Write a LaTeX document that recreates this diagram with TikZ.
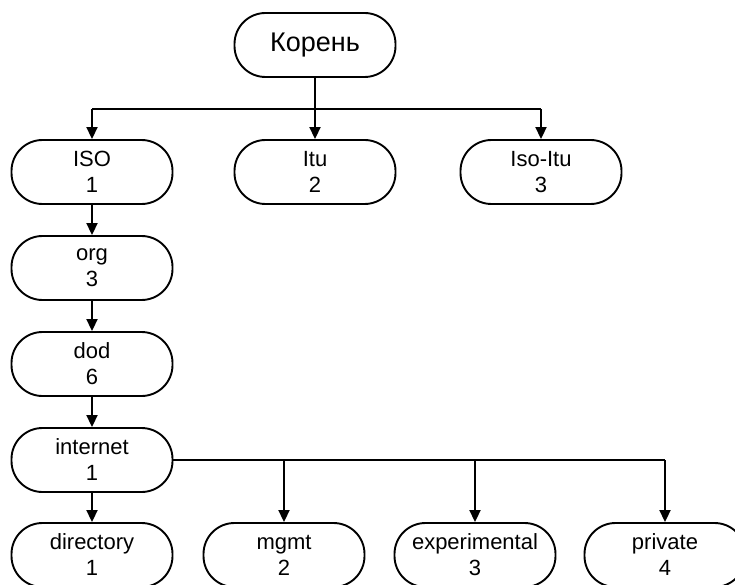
\documentclass[tikz,border=0pt]{standalone}
\usepackage{fontspec}
\setmainfont{Liberation Sans}
\usetikzlibrary{arrows.meta}
\begin{document}
\begin{tikzpicture}[x=1pt,y=-1pt,
  box/.style={draw, line width=1.9pt, rounded corners=31pt, minimum width=161pt, minimum height=64pt,
    align=center, font=\fontsize{22}{26}\selectfont, inner sep=0pt,
    execute at begin node={\rule{0pt}{16pt}}},
  conn/.style={line width=1.9pt},
  arr/.style={conn, -{Triangle[length=12pt,width=11pt]}}]
\useasboundingbox (0,0) rectangle (735,585);
\node[box, font=\fontsize{27}{30}\selectfont] (root) at (315,45) {Корень};
\node[box] (iso) at (92,172) {ISO\\1};
\node[box] (itu) at (315,172) {Itu\\2};
\node[box] (isoitu) at (541,172) {Iso-Itu\\3};
\node[box] (org) at (92,268) {org\\3};
\node[box] (dod) at (92,364) {dod\\6};
\node[box] (internet) at (92,460) {internet\\1};
\node[box] (directory) at (92,555) {directory\\1};
\node[box] (mgmt) at (284,555) {mgmt\\2};
\node[box] (experimental) at (475,555) {experimental\\3};
\node[box] (private) at (665,555) {private\\4};
\coordinate (j) at (315,109);
\draw[conn] (root.south) -- (j);
\draw[conn] (j -| iso) -- (j -| isoitu);
\draw[arr] (j -| iso) -- (iso.north);
\draw[arr] (j) -- (itu.north);
\draw[arr] (j -| isoitu) -- (isoitu.north);
\draw[arr] (iso.south) -- (org.north);
\draw[arr] (org.south) -- (dod.north);
\draw[arr] (dod.south) -- (internet.north);
\draw[arr] (internet.south) -- (directory.north);
\draw[conn] (internet.east) -- (internet.east -| private);
\draw[arr] (internet.east -| mgmt) -- (mgmt.north);
\draw[arr] (internet.east -| experimental) -- (experimental.north);
\draw[arr] (internet.east -| private) -- (private.north);
\end{tikzpicture}
\end{document}
